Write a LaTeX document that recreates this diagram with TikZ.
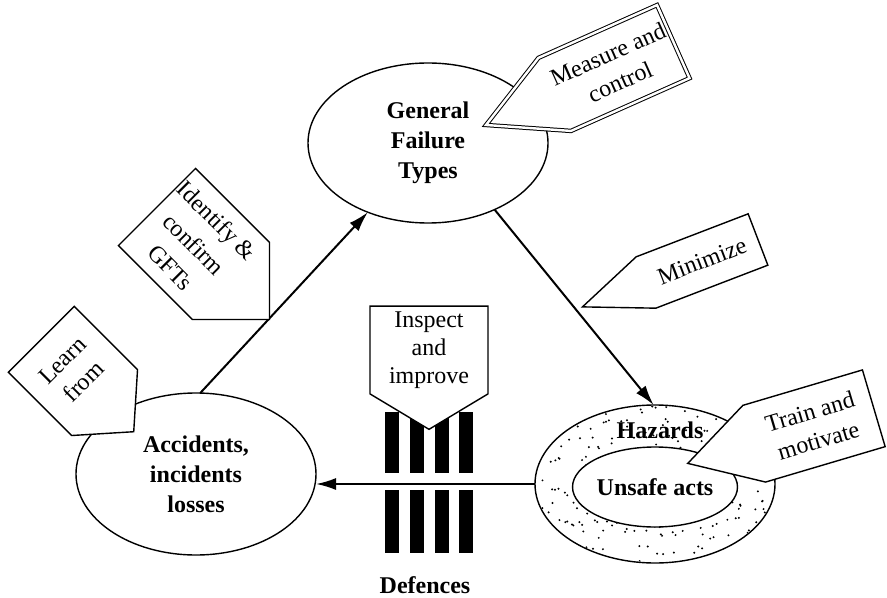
\documentclass[tikz,border=0pt]{standalone}
\usepackage{fontspec}
\setmainfont{Liberation Serif}
\usetikzlibrary{shapes.geometric,shapes.symbols,arrows.meta}

\begin{document}
\begin{tikzpicture}[x=0.5pt,y=-0.5pt,
    every node/.style={font=\fontsize{12}{15}\selectfont,align=center},
    cause/.style={draw,ellipse,line width=0.7pt,inner sep=0pt,outer sep=0pt,font=\fontsize{12}{15}\selectfont\bfseries},
    tag/.style={draw,signal,fill=white,line width=0.7pt,inner sep=1pt,outer sep=0pt},
    flow/.style={line width=1pt,-{Latex[length=10pt,width=6pt]}}]
  \useasboundingbox (0,0) rectangle (887,598);
  \node[cause,minimum width=120pt,minimum height=80pt] (gft) at (428,143) {General\\Failure\\Types};
  \node[cause,minimum width=120pt,minimum height=81pt] (acc) at (196,474) {Accidents,\\incidents\\losses};
  \node[cause,minimum width=120pt,minimum height=79pt] (haz) at (655,484) {};
  \begin{scope}
    \clip (haz.center) ellipse [x radius=119, y radius=78];
    \pgfmathsetseed{7}
    \foreach \i in {1,...,280}
      \fill ({655+120*rand},{484+79*rand}) circle (1.1);
  \end{scope}
  \node[cause,fill=white,minimum width=73pt,minimum height=40pt] (acts) at (655,487) {Unsafe acts};
  \node[font=\fontsize{12}{15}\selectfont\bfseries] (hazlbl) at (660,430) {Hazards};
  \draw[flow] (acc.87) -- (gft.229);
  \draw[flow] (gft.-45) -- (haz.91);
  \draw[flow] (haz.west) -- (haz.west -| acc.east);
  \foreach \x in {392,417,442,466} {
    \fill (\x-7,412) rectangle (\x+7,473);
    \fill (\x-7,490) rectangle (\x+7,553);
  }
  \node[font=\fontsize{12}{15}\selectfont\bfseries] (def) at (425,585) {Defences};
  \node[tag,double,double distance=1.2pt,line width=0.5pt,signal to=west,signal pointer angle=56,rotate=24,minimum width=102.5pt,minimum height=40pt] (measure) at (614,68) {Measure and\\control};
  \node[tag,signal to=west,signal pointer angle=44,rotate=21,minimum width=94pt,minimum height=27.5pt] (minim) at (702,261) {Minimize};
  \node[tag,signal to=west,signal pointer angle=60,rotate=16.5,minimum width=97pt,minimum height=40pt] (train) at (814,426) {Train and\\motivate};
  \node[tag,signal to=east,signal pointer angle=90,rotate=-45,minimum width=77.5pt,minimum height=54.5pt,font=\fontsize{12}{16.5}\selectfont] (ident) at (194,244) {Identify \&\\confirm\\GFTs};
  \node[tag,signal to=south,signal pointer angle=97,rotate=45,minimum width=46.5pt,minimum height=58pt] (learn) at (73,371) {Learn\\from};
  \node[tag,signal to=south,signal pointer angle=118,inner ysep=0pt,minimum width=59pt,minimum height=56.5pt,font=\fontsize{12}{14}\selectfont] (inspect) at (429,350) {Inspect\\and\\improve};
\end{tikzpicture}
\end{document}
